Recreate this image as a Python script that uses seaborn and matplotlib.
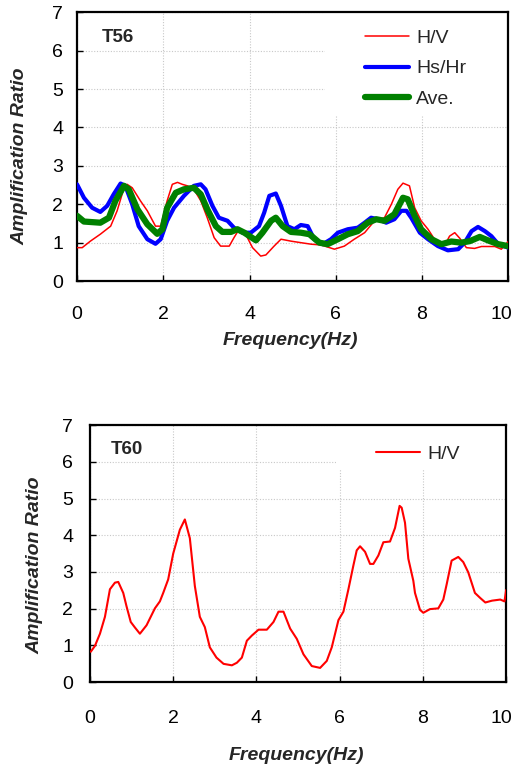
import numpy as np
import pandas as pd
import matplotlib
matplotlib.use("Agg")
import matplotlib.pyplot as plt
from matplotlib.patches import Rectangle
from matplotlib.transforms import ScaledTranslation
import seaborn as sns

# ---------------- data ----------------
t56_hv_f = [0, 0.12, 0.31, 0.54, 0.78, 0.93, 1.09, 1.16, 1.28, 1.47, 1.63, 1.82, 1.94, 2.09, 2.21, 2.33, 2.44,
            2.56, 2.71, 2.87, 3.02, 3.18, 3.33, 3.53, 3.64, 3.76, 3.91, 4.07, 4.26, 4.38, 4.57, 4.73, 4.96,
            5.19, 5.43, 5.66, 5.97, 6.2, 6.43, 6.67, 6.9, 7.13, 7.29, 7.44, 7.56, 7.71, 7.83, 7.98, 8.14,
            8.29, 8.53, 8.64, 8.76, 8.88, 9.03, 9.22, 9.38, 9.69, 9.84, 10.0]
t56_hv_v = [0.87, 0.87, 1.04, 1.22, 1.43, 1.83, 2.43, 2.52, 2.43, 2.09, 1.83, 1.43, 1.43, 2.09, 2.52, 2.57, 2.52,
            2.48, 2.39, 2.09, 1.65, 1.13, 0.91, 0.91, 1.13, 1.35, 1.22, 0.87, 0.65, 0.68, 0.91, 1.09, 1.04,
            1.0, 0.96, 0.94, 0.83, 0.91, 1.09, 1.26, 1.57, 1.65, 2.0, 2.39, 2.55, 2.48, 1.91, 1.57, 1.35,
            1.09, 0.94, 1.17, 1.26, 1.11, 0.87, 0.85, 0.90, 0.90, 0.83, 1.03]

t56_hs_f = [0, 0.16, 0.35, 0.54, 0.70, 0.85, 1.01, 1.12, 1.28, 1.43, 1.63, 1.82, 1.94, 2.09, 2.25, 2.48, 2.71,
            2.87, 2.98, 3.14, 3.29, 3.49, 3.64, 3.84, 4.03, 4.22, 4.34, 4.46, 4.61, 4.73, 4.88, 5.04, 5.19,
            5.35, 5.5, 5.7, 5.89, 6.05, 6.28, 6.51, 6.67, 6.82, 6.98, 7.17, 7.36, 7.52, 7.64, 7.75, 7.95,
            8.14, 8.37, 8.6, 8.84, 8.99, 9.15, 9.30, 9.46, 9.61, 9.77, 10.0]
t56_hs_v = [2.52, 2.17, 1.91, 1.8, 1.96, 2.26, 2.54, 2.48, 2.0, 1.43, 1.09, 0.97, 1.09, 1.57, 1.91, 2.22, 2.48,
            2.52, 2.39, 1.96, 1.65, 1.57, 1.39, 1.26, 1.26, 1.43, 1.78, 2.22, 2.28, 1.96, 1.43, 1.35, 1.46,
            1.43, 1.09, 0.96, 1.09, 1.26, 1.35, 1.39, 1.52, 1.65, 1.61, 1.52, 1.61, 1.83, 1.83, 1.65, 1.26,
            1.09, 0.91, 0.80, 0.83, 1.0, 1.30, 1.41, 1.30, 1.17, 0.96, 0.87]

t56_ave_f = [0, 0.16, 0.54, 0.74, 0.89, 1.09, 1.2, 1.4, 1.63, 1.86, 1.98, 2.09, 2.29, 2.48, 2.71, 2.87, 3.02,
             3.22, 3.37, 3.57, 3.72, 3.88, 4.15, 4.3, 4.5, 4.61, 4.77, 4.96, 5.19, 5.39, 5.62, 5.81, 6.05,
             6.28, 6.51, 6.74, 6.94, 7.13, 7.36, 7.56, 7.67, 7.83, 7.98, 8.22, 8.45, 8.68, 8.91, 9.11, 9.34,
             9.53, 9.77, 10.0]
t56_ave_v = [1.70, 1.55, 1.52, 1.65, 2.09, 2.48, 2.39, 1.87, 1.48, 1.23, 1.35, 1.91, 2.30, 2.39, 2.43, 2.26, 1.87,
             1.43, 1.28, 1.28, 1.35, 1.26, 1.06, 1.26, 1.57, 1.65, 1.43, 1.28, 1.26, 1.22, 1.0, 0.96, 1.09,
             1.22, 1.30, 1.52, 1.61, 1.57, 1.74, 2.17, 2.13, 1.70, 1.35, 1.09, 0.96, 1.03, 1.0, 1.04, 1.15,
             1.06, 0.96, 0.91]

t60_hv_f = [0.02, 0.12, 0.24, 0.36, 0.48, 0.6, 0.68, 0.8, 0.88, 0.98, 1.08, 1.2, 1.36, 1.56, 1.68, 1.76, 1.88,
            2.0, 2.16, 2.28, 2.4, 2.52, 2.64, 2.76, 2.88, 3.04, 3.21, 3.41, 3.53, 3.65, 3.77, 3.89, 4.05,
            4.25, 4.41, 4.53, 4.65, 4.81, 4.97, 5.13, 5.33, 5.53, 5.69, 5.81, 5.97, 6.09, 6.21, 6.33, 6.41,
            6.49, 6.61, 6.73, 6.81, 6.93, 7.05, 7.21, 7.33, 7.44, 7.49, 7.57, 7.65, 7.77, 7.81, 7.93, 8.01,
            8.17, 8.37, 8.49, 8.57, 8.69, 8.85, 8.97, 9.09, 9.25, 9.38, 9.50, 9.66, 9.86, 9.96, 10.0]
t60_hv_v = [0.83, 0.99, 1.32, 1.78, 2.53, 2.71, 2.73, 2.43, 2.06, 1.64, 1.49, 1.32, 1.55, 2.01, 2.2, 2.43, 2.80,
            3.50, 4.15, 4.43, 3.92, 2.62, 1.78, 1.50, 0.95, 0.67, 0.50, 0.46, 0.53, 0.67, 1.13, 1.27, 1.43,
            1.43, 1.64, 1.92, 1.92, 1.46, 1.18, 0.76, 0.44, 0.39, 0.58, 0.95, 1.69, 1.92, 2.53, 3.18, 3.59,
            3.70, 3.55, 3.22, 3.22, 3.45, 3.81, 3.83, 4.20, 4.80, 4.75, 4.34, 3.36, 2.76, 2.43, 1.97, 1.89,
            1.99, 2.01, 2.25, 2.66, 3.31, 3.41, 3.27, 2.99, 2.43, 2.29, 2.17, 2.22, 2.25, 2.20, 2.51]

x_ticks = [0, 2, 4, 6, 8, 10]
y_ticks = [0, 1, 2, 3, 4, 5, 6, 7]

# ---------------- style ----------------
sns.set_style("white")
plt.rcParams["font.family"] = ["Liberation Sans", "DejaVu Sans"]

fig = plt.figure(figsize=(5.17, 7.70), dpi=100)
ax1 = fig.add_axes([0.149, 0.635, 0.834, 0.349])
ax2 = fig.add_axes([0.174, 0.114, 0.805, 0.334])

RED, BLUE, GREEN = "#FF0000", "#0000FF", "#008000"

sns.lineplot(x=t56_hv_f, y=t56_hv_v, ax=ax1, color=RED, lw=1.1, label="H/V", zorder=3)
sns.lineplot(x=t56_hs_f, y=t56_hs_v, ax=ax1, color=BLUE, lw=3.0, label="Hs/Hr", zorder=4)
sns.lineplot(x=t56_ave_f, y=t56_ave_v, ax=ax1, color=GREEN, lw=4.5, label="Ave.", zorder=5)

sns.lineplot(x=t60_hv_f, y=t60_hv_v, ax=ax2, color=RED, lw=1.5, label="H/V", zorder=3)


def style(ax, name, name_xy, xpad, ypad, rect, leg_xy, xlab_xy, ylab_xy, last_shift):
    ax.set_xlim(0, 10)
    ax.set_ylim(0, 7)
    ax.set_xticks(x_ticks)
    ax.set_yticks(y_ticks)
    ax.grid(True, color="#c8c8c8", ls=(0, (1, 1.5)), lw=0.8)
    for s in ax.spines.values():
        s.set_color("black")
        s.set_linewidth(1.6)
        s.set_visible(True)
    ax.tick_params(axis="x", direction="in", length=4, width=1, pad=xpad, labelsize=14, colors="black",
                   bottom=True)
    ax.tick_params(axis="y", direction="in", length=4, width=1, pad=ypad, labelsize=14, colors="black",
                   left=True)
    # keep the "10" label inside the figure, as in the reference
    lab = ax.get_xticklabels()[-1]
    lab.set_transform(lab.get_transform() + ScaledTranslation(-last_shift / 100, 0, fig.dpi_scale_trans))
    ax.set_xlabel("Frequency(Hz)", fontsize=14, fontweight="bold", fontstyle="italic")
    ax.set_ylabel("Amplification Ratio", fontsize=14, fontweight="bold", fontstyle="italic")
    ax.xaxis.set_label_coords(*xlab_xy)
    ax.yaxis.set_label_coords(*ylab_xy)
    ax.text(name_xy[0], name_xy[1], name, transform=ax.transAxes, fontsize=13.5, fontweight="bold",
            va="center", ha="left")
    ax.add_patch(Rectangle((rect[0], rect[1]), 1 - rect[0], 1 - rect[1], transform=ax.transAxes,
                           facecolor="white", edgecolor="none", zorder=1.6))
    ax.legend(loc="upper left", bbox_to_anchor=leg_xy, frameon=False, fontsize=14,
              handlelength=2.27, handletextpad=0.36, labelspacing=0.67, borderpad=0, borderaxespad=0)


style(ax1, "T56", (0.058, 0.907), 18, 10, (0.575, 0.617), (0.668, 0.937), (0.494, -0.19), (-0.112, 0.465), 7)
style(ax2, "T60", (0.05, 0.903), 20, 12, (0.59, 0.83), (0.688, 0.920), (0.495, -0.25), (-0.113, 0.455), 5)

fig.savefig("out.png", dpi=100)
